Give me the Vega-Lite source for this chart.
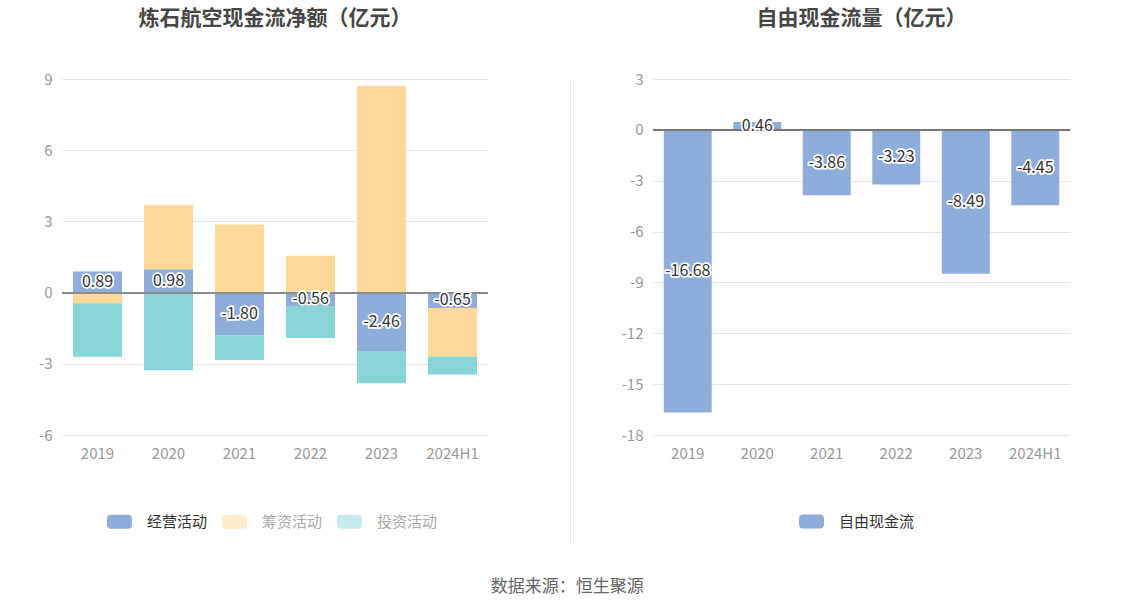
{
  "$schema": "https://vega.github.io/schema/vega-lite/v6.json",
  "padding": {"left": 0, "top": 8, "right": 0, "bottom": 0},
  "title": {
    "text": "数据来源：恒生聚源",
    "orient": "bottom",
    "anchor": "middle",
    "fontSize": 17,
    "fontWeight": "normal",
    "color": "#666666",
    "offset": 34,
    "dx": 32
  },
  "config": {
    "font": "Noto Sans CJK SC",
    "locale": {"number": {"decimal": ".", "thousands": ",", "grouping": [3], "currency": ["$", ""], "minus": "-"}},
    "view": {"stroke": null},
    "title": {"fontSize": 21, "fontWeight": "bold", "color": "#464646", "offset": 43, "anchor": "middle"},
    "axis": {"labelColor": "#999999", "labelFontSize": 15, "ticks": false, "domain": false, "title": null},
    "axisX": {"grid": false, "labelAngle": 0, "labelPadding": 11},
    "axisY": {"grid": true, "gridColor": "#e0e6f1", "labelPadding": 10},
    "legend": {
      "orient": "none",
      "direction": "horizontal",
      "title": null,
      "symbolType": "M-0.7,-0.56H0.7A0.3,0.3 0 0 1 1,-0.26V0.26A0.3,0.3 0 0 1 0.7,0.56H-0.7A0.3,0.3 0 0 1 -1,0.26V-0.26A0.3,0.3 0 0 1 -0.7,-0.56Z",
      "symbolSize": 625,
      "symbolStrokeWidth": 0,
      "labelFontSize": 15,
      "labelColor": "#333333",
      "labelOffset": 15,
      "columnPadding": 14
    }
  },
  "resolve": {"scale": {"color": "independent"}, "legend": {"color": "independent"}},
  "columns": 2,
  "align": "none",
  "spacing": 77,
  "concat": [
    {
      "width": 426,
      "height": 356,
      "title": {"text": "炼石航空现金流净额（亿元）"},
      "data": {
        "values": [
          {"year": "2019", "type": "经营活动", "value": 0.89},
          {"year": "2019", "type": "筹资活动", "value": -0.45},
          {"year": "2019", "type": "投资活动", "value": -2.25},
          {"year": "2020", "type": "经营活动", "value": 0.98},
          {"year": "2020", "type": "筹资活动", "value": 2.71},
          {"year": "2020", "type": "投资活动", "value": -3.27},
          {"year": "2021", "type": "经营活动", "value": -1.80},
          {"year": "2021", "type": "筹资活动", "value": 2.87},
          {"year": "2021", "type": "投资活动", "value": -1.04},
          {"year": "2022", "type": "经营活动", "value": -0.56},
          {"year": "2022", "type": "筹资活动", "value": 1.55},
          {"year": "2022", "type": "投资活动", "value": -1.35},
          {"year": "2023", "type": "经营活动", "value": -2.46},
          {"year": "2023", "type": "筹资活动", "value": 8.71},
          {"year": "2023", "type": "投资活动", "value": -1.36},
          {"year": "2024H1", "type": "经营活动", "value": -0.65},
          {"year": "2024H1", "type": "筹资活动", "value": -2.04},
          {"year": "2024H1", "type": "投资活动", "value": -0.76}
        ]
      },
      "layer": [
        {
          "mark": {"type": "bar"},
          "encoding": {
            "x": {"field": "year", "type": "nominal", "sort": null, "scale": {"paddingInner": 0.31, "paddingOuter": 0.155}},
            "y": {
              "field": "value", "type": "quantitative", "stack": "zero",
              "scale": {"domain": [-6, 9], "nice": false, "zero": false},
              "axis": {"values": [-6, -3, 0, 3, 6, 9], "minExtent": 62, "maxExtent": 62}
            },
            "color": {
              "field": "type", "type": "nominal",
              "scale": {"domain": ["经营活动", "筹资活动", "投资活动"], "range": ["#8eaddb", "#fed898", "#88d5d7"]},
              "legend": {
                "legendX": 45,
                "legendY": 430,
                "encode": {
                  "labels": {"update": {"fill": {"signal": "datum.value === '经营活动' ? '#333333' : '#aaaaaa'"}}},
                  "symbols": {"update": {"opacity": {"signal": "datum.value === '经营活动' ? 1 : 0.48"}}}
                }
              }
            },
            "order": {"field": "type", "sort": "descending"}
          }
        },
        {
          "mark": {"type": "rule", "color": "#8c8c8c", "strokeWidth": 1.2},
          "encoding": {"y": {"datum": 0}}
        },
        {
          "transform": [{"filter": "datum.type === '经营活动'"}, {"calculate": "datum.value / 2", "as": "mid"}],
          "mark": {"type": "text", "fontSize": 16, "stroke": "white", "strokeWidth": 3.5, "strokeJoin": "round", "fill": "white"},
          "encoding": {
            "x": {"field": "year", "type": "nominal", "sort": null},
            "y": {"field": "mid", "type": "quantitative"},
            "text": {"field": "value", "type": "quantitative", "format": ".2f"}
          }
        },
        {
          "transform": [{"filter": "datum.type === '经营活动'"}, {"calculate": "datum.value / 2", "as": "mid"}],
          "mark": {"type": "text", "fontSize": 16, "fill": "#333333"},
          "encoding": {
            "x": {"field": "year", "type": "nominal", "sort": null},
            "y": {"field": "mid", "type": "quantitative"},
            "text": {"field": "value", "type": "quantitative", "format": ".2f"}
          }
        }
      ]
    },
    {
      "columns": 2,
      "align": "none",
      "spacing": 36,
      "resolve": {"scale": {"color": "independent"}, "legend": {"color": "independent"}},
      "concat": [
        {
          "width": 0.01,
          "height": 465,
          "view": {"stroke": "#e8e8e8", "strokeWidth": 1},
          "data": {"values": [{}]},
          "mark": {"type": "point", "opacity": 0},
          "encoding": {}
        },
        {
          "width": 417,
          "height": 356,
          "title": {"text": "自由现金流量（亿元）"},
          "data": {
            "values": [
              {"year": "2019", "series": "自由现金流", "value": -16.68},
              {"year": "2020", "series": "自由现金流", "value": 0.46},
              {"year": "2021", "series": "自由现金流", "value": -3.86},
              {"year": "2022", "series": "自由现金流", "value": -3.23},
              {"year": "2023", "series": "自由现金流", "value": -8.49},
              {"year": "2024H1", "series": "自由现金流", "value": -4.45}
            ]
          },
          "layer": [
            {
              "mark": {"type": "bar"},
              "encoding": {
                "x": {"field": "year", "type": "nominal", "sort": null, "scale": {"paddingInner": 0.31, "paddingOuter": 0.155}},
                "y": {
                  "field": "value", "type": "quantitative",
                  "scale": {"domain": [-18, 3], "nice": false, "zero": false},
                  "axis": {"values": [-18, -15, -12, -9, -6, -3, 0, 3], "minExtent": 43, "maxExtent": 43}
                },
                "color": {
                  "field": "series", "type": "nominal",
                  "scale": {"domain": ["自由现金流"], "range": ["#8eaddb"]},
                  "legend": {"legendX": 146, "legendY": 430}
                }
              }
            },
            {
              "mark": {"type": "rule", "color": "#777777", "strokeWidth": 1.2},
              "encoding": {"y": {"datum": 0}}
            },
            {
              "transform": [{"calculate": "datum.value / 2", "as": "mid"}],
              "mark": {"type": "text", "fontSize": 16, "stroke": "white", "strokeWidth": 3.5, "strokeJoin": "round", "fill": "white"},
              "encoding": {
                "x": {"field": "year", "type": "nominal", "sort": null},
                "y": {"field": "mid", "type": "quantitative"},
                "text": {"field": "value", "type": "quantitative", "format": ".2f"}
              }
            },
            {
              "transform": [{"calculate": "datum.value / 2", "as": "mid"}],
              "mark": {"type": "text", "fontSize": 16, "fill": "#333333"},
              "encoding": {
                "x": {"field": "year", "type": "nominal", "sort": null},
                "y": {"field": "mid", "type": "quantitative"},
                "text": {"field": "value", "type": "quantitative", "format": ".2f"}
              }
            }
          ]
        }
      ]
    }
  ]
}
